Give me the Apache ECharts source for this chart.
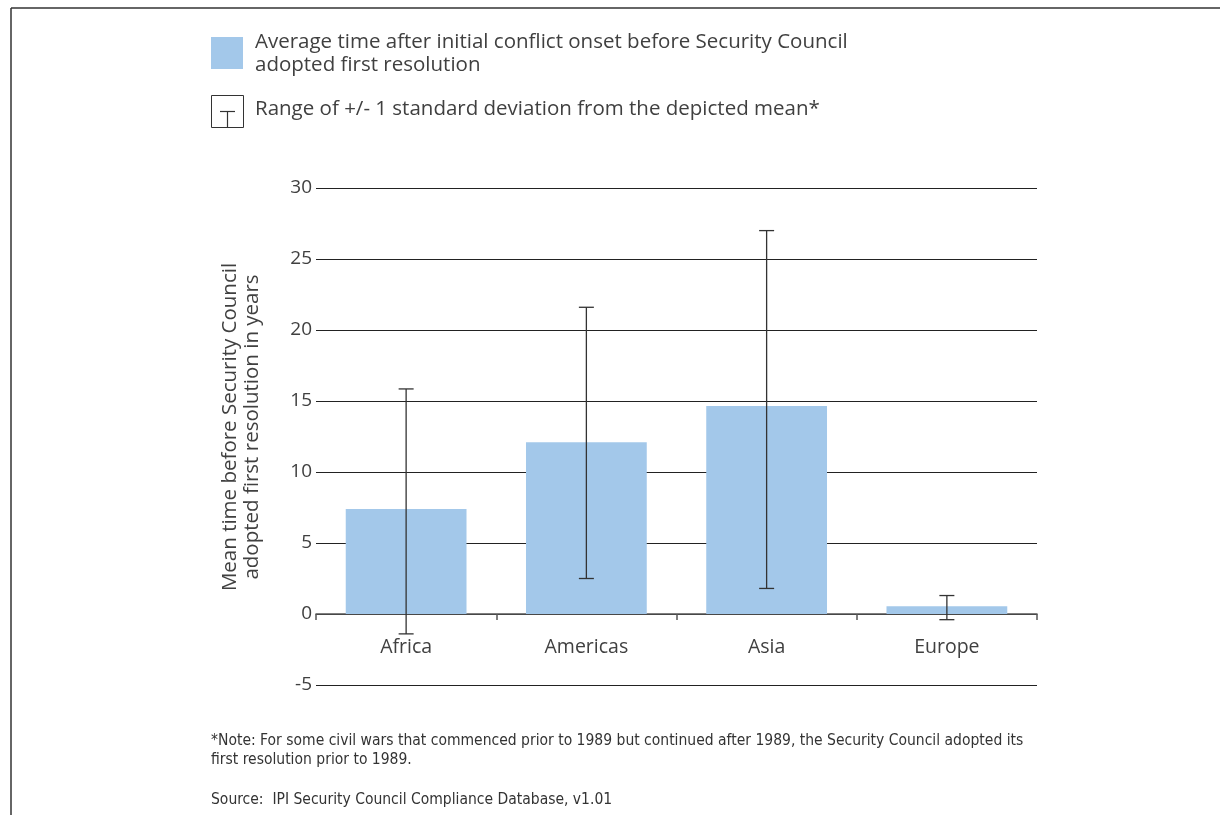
<!DOCTYPE html>
<html>
<head>
<meta charset="utf-8">
<script src="https://cdn.jsdelivr.net/npm/echarts@6/dist/echarts.min.js"></script>
<style>
html,body{margin:0;padding:0;background:#fff;}
#chart{width:1220px;height:815px;}
</style>
</head>
<body>
<div id="chart"></div>
<script>
const categories = ['Africa', 'Americas', 'Asia', 'Europe'];
const meanYears = [7.4, 12.1, 14.65, 0.55];
const sdLower = [-1.4, 2.5, 1.8, -0.4];
const sdUpper = [15.85, 21.6, 27.0, 1.3];
const yTicks = { min: -5, max: 30, interval: 5 };

const legendText1 = 'Average time after initial conflict onset before Security Council\nadopted first resolution';
const legendText2 = 'Range of +/- 1 standard deviation from the depicted mean*';
const yAxisTitle = 'Mean time before Security Council\nadopted first resolution in years';
const noteText = '*Note: For some civil wars that commenced prior to 1989 but continued after 1989, the Security Council adopted its\nfirst resolution prior to 1989.';
const sourceText = 'Source:  IPI Security Council Compliance Database, v1.01';

const errorData = categories.map((c, i) => [i, sdLower[i], sdUpper[i]]);

const FONT = '"Open Sans", Lato, "Noto Sans", sans-serif';
const NOTE_FONT = '"Liberation Sans Narrow", "DejaVu Sans Condensed", sans-serif';
const TXT = '#404040';

const chart = echarts.init(document.getElementById('chart'), null, { renderer: 'canvas' });
chart.setOption({
  backgroundColor: '#fff',
  animation: false,
  grid: { left: 316, right: 183, top: 188, bottom: 130, containLabel: false },
  xAxis: {
    type: 'category',
    data: categories,
    boundaryGap: true,
    axisLine: { onZero: true, lineStyle: { color: '#555', width: 1.5 } },
    axisTick: { show: true, length: 6, interval: 0, lineStyle: { color: '#555', width: 1.5 } },
    axisLabel: { color: TXT, fontFamily: FONT, fontSize: 19.5, margin: -48 },
    splitLine: { show: false }
  },
  yAxis: {
    type: 'value',
    min: yTicks.min, max: yTicks.max, interval: yTicks.interval,
    axisLine: { show: false },
    axisTick: { show: false },
    axisLabel: { color: TXT, fontFamily: FONT, fontSize: 19, margin: 4 },
    splitLine: { show: true, lineStyle: { color: '#222', width: 1.2 } }
  },
  series: [
    {
      type: 'bar',
      name: 'Average time',
      data: meanYears,
      barWidth: '67%',
      itemStyle: { color: '#a3c8ea' },
      z: 2
    },
    {
      type: 'custom',
      name: 'Std dev',
      data: errorData,
      z: 3,
      renderItem: function (params, api) {
        const x = api.value(0);
        const lo = api.coord([x, api.value(1)]);
        const hi = api.coord([x, api.value(2)]);
        const half = 7.5;
        const style = { stroke: '#333', lineWidth: 1.3 };
        return {
          type: 'group',
          children: [
            { type: 'line', shape: { x1: hi[0], y1: hi[1], x2: lo[0], y2: lo[1] }, style: style },
            { type: 'line', shape: { x1: hi[0] - half, y1: hi[1], x2: hi[0] + half, y2: hi[1] }, style: style },
            { type: 'line', shape: { x1: lo[0] - half, y1: lo[1], x2: lo[0] + half, y2: lo[1] }, style: style }
          ]
        };
      }
    }
  ],
  graphic: [
    { type: 'line', shape: { x1: 11, y1: 8, x2: 1220, y2: 8 }, style: { stroke: '#333', lineWidth: 1.5 } },
    { type: 'line', shape: { x1: 11, y1: 8, x2: 11, y2: 815 }, style: { stroke: '#333', lineWidth: 1.5 } },
    { type: 'rect', shape: { x: 211, y: 37, width: 32, height: 32 }, style: { fill: '#a3c8ea' } },
    { type: 'text', left: 255, top: 31, style: { text: legendText1, fill: TXT, font: '20.5px ' + FONT, lineHeight: 23 } },
    { type: 'rect', shape: { x: 211.5, y: 95.5, width: 32, height: 32 }, style: { fill: 'none', stroke: '#333', lineWidth: 1 } },
    { type: 'line', shape: { x1: 220, y1: 111.5, x2: 235, y2: 111.5 }, style: { stroke: '#333', lineWidth: 1.2 } },
    { type: 'line', shape: { x1: 227.5, y1: 111.5, x2: 227.5, y2: 127.5 }, style: { stroke: '#333', lineWidth: 1.2 } },
    { type: 'text', left: 255, top: 99, style: { text: legendText2, fill: TXT, font: '20.5px ' + FONT } },
    { type: 'text', x: 241, y: 427, rotation: Math.PI / 2,
      style: { text: yAxisTitle, fill: TXT, font: '20.5px ' + FONT, lineHeight: 22, align: 'center', verticalAlign: 'middle' } },
    { type: 'text', left: 211, top: 731, style: { text: noteText, fill: '#333', font: '15.5px ' + NOTE_FONT, lineHeight: 19.5 } },
    { type: 'text', left: 211, top: 792, style: { text: sourceText, fill: '#333', font: '15.5px ' + NOTE_FONT } }
  ]
});
</script>
</body>
</html>
